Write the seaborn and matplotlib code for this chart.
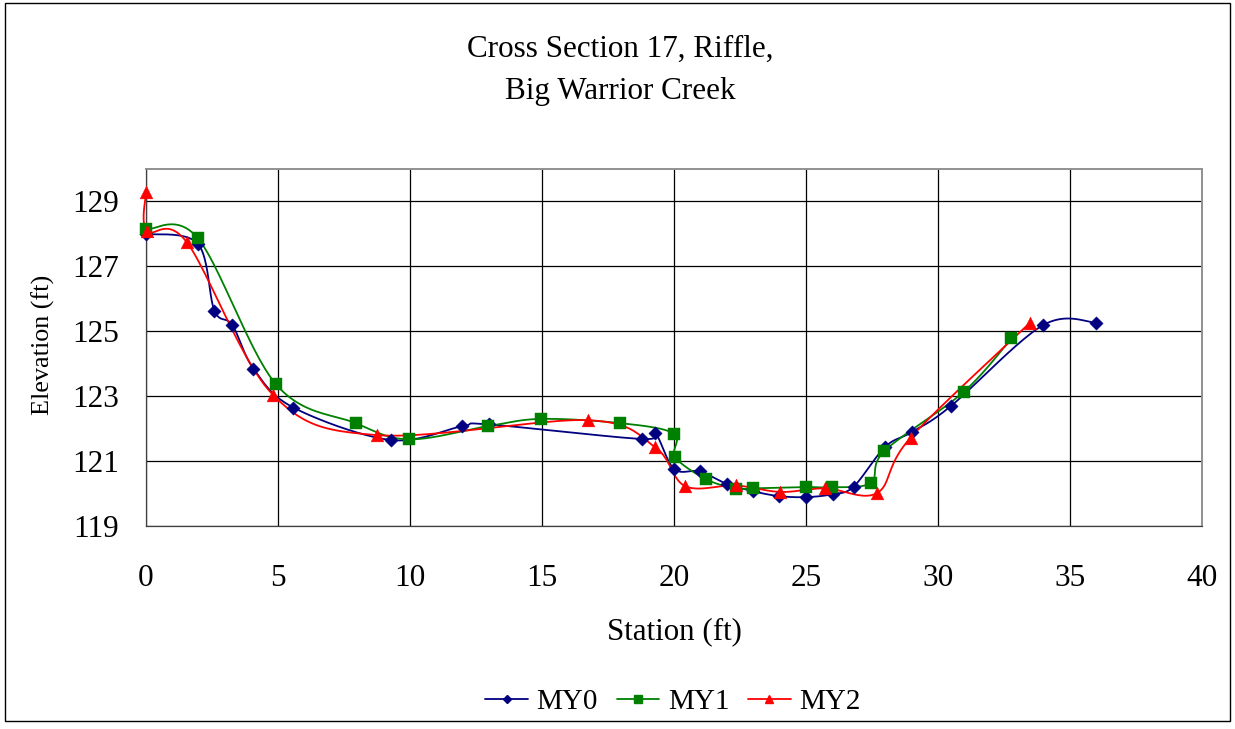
import numpy as np
import matplotlib
matplotlib.use("Agg")
import matplotlib.pyplot as plt
from matplotlib.lines import Line2D
from matplotlib.patches import Rectangle
import seaborn as sns

# ---------------- data ----------------
my0_x = [0.0, 1.96, 2.59, 3.27, 4.07, 5.58, 9.27, 11.97, 12.98, 18.79, 19.28, 20.0,
         20.98, 22.0, 23.0, 23.99, 25.01, 26.01, 26.8, 28.0, 29.0, 30.48, 33.96, 35.98]
my0_y = [128.0, 127.7, 125.64, 125.19, 123.85, 122.65, 121.65, 122.07, 122.13, 121.68,
         121.88, 120.76, 120.68, 120.3, 120.07, 119.92, 119.89, 119.98, 120.21, 121.44,
         121.89, 122.69, 125.18, 125.27]

my1_x = [0.0, 1.96, 4.92, 7.94, 9.97, 12.97, 14.96, 17.96, 19.99, 20.05, 21.22, 22.36,
         22.98, 24.99, 25.98, 27.45, 27.97, 30.97, 32.78]
my1_y = [128.14, 127.87, 123.37, 122.17, 121.67, 122.08, 122.3, 122.17, 121.85, 121.12,
         120.44, 120.15, 120.16, 120.2, 120.19, 120.33, 121.31, 123.13, 124.78]

my2_x = [0.0, 0.03, 1.54, 4.8, 8.75, 16.73, 19.28, 20.42, 22.34, 24.03, 25.73, 27.7,
         28.96, 33.48]
my2_y = [129.3, 128.09, 127.75, 123.05, 121.8, 122.26, 121.43, 120.23, 120.25, 120.05,
         120.16, 120.02, 121.72, 125.26]

series_names = ["MY0", "MY1", "MY2"]
series_colors = ["#000080", "#008000", "#FF0000"]
series_markers = ["D", "s", "^"]
x_ticks = [0, 5, 10, 15, 20, 25, 30, 35, 40]
y_ticks = [119, 121, 123, 125, 127, 129]
title_lines = ["Cross Section 17, Riffle,", "Big Warrior Creek"]


def smooth_curve(xs, ys, n=24):
    """Excel-like smoothed line (Catmull-Rom Bezier) through the data points."""
    p = np.column_stack([xs, ys]).astype(float)
    pts = np.vstack([p[0], p, p[-1]])
    out = []
    t = np.linspace(0, 1, n)[:, None]
    for i in range(1, len(pts) - 2):
        p0, p1, p2, p3 = pts[i - 1], pts[i], pts[i + 1], pts[i + 2]
        c1 = p1 + (p2 - p0) / 6.0
        c2 = p2 - (p3 - p1) / 6.0
        seg = ((1 - t) ** 3) * p1 + 3 * ((1 - t) ** 2) * t * c1 + 3 * (1 - t) * t ** 2 * c2 + t ** 3 * p2
        out.append(seg if i == 1 else seg[1:])
    c = np.vstack(out)
    return c[:, 0], c[:, 1]


sns.set_theme(style="white")
plt.rcParams["font.family"] = ["Liberation Serif", "DejaVu Serif"]
plt.rcParams["text.color"] = "black"

W, H = 1235, 729
fig = plt.figure(figsize=(W / 100, H / 100), dpi=100)
fig.patch.set_facecolor("white")

# outer chart border
fig.patches.append(Rectangle((5 / W, 1 - 721 / H), (1230 - 5) / W, (721 - 3) / H,
                             transform=fig.transFigure, fill=False,
                             edgecolor="black", linewidth=1.0))

L, R, T, B = 146, 1202, 169, 526
ax = fig.add_axes([L / W, 1 - B / H, (R - L) / W, (B - T) / H])
ax.set_facecolor("white")

data_x = [my0_x, my1_x, my2_x]
data_y = [my0_y, my1_y, my2_y]
sizes = [6.8, 8.2, 9.2]
for xs, ys, col, mk, sz in zip(data_x, data_y, series_colors, series_markers, sizes):
    sx, sy = smooth_curve(xs, ys)
    ax.plot(sx, sy, color=col, linewidth=1.3, zorder=3, clip_on=False)
    sns.scatterplot(x=xs, y=ys, marker=mk, s=sz ** 2, color=col,
                    edgecolor=col, linewidth=0.3, ax=ax, zorder=4, legend=False,
                    clip_on=False)

ax.set_xlim(0, 40)
ax.set_ylim(119, 130)
ax.set_xticks(x_ticks)
ax.set_yticks(y_ticks)
ax.grid(True, color="black", linewidth=0.9)
ax.set_axisbelow(True)
ax.tick_params(axis="both", direction="out", length=7.5, width=0.8, color="#404040",
               labelsize=22.5, labelcolor="black")
ax.tick_params(axis="y", pad=12)
ax.tick_params(axis="x", pad=20)
for side in ["left", "bottom"]:
    ax.spines[side].set_color("#404040")
    ax.spines[side].set_linewidth(0.9)
for side in ["top", "right"]:
    ax.spines[side].set_color("#909090")
    ax.spines[side].set_linewidth(1.4)
ax.set_xlabel("")
ax.set_ylabel("")

# titles and labels
fig.text(620 / W, 1 - 57 / H, title_lines[0], ha="center", va="baseline", fontsize=22.4,
         color="black")
fig.text(620 / W, 1 - 99 / H, title_lines[1], ha="center", va="baseline", fontsize=22.4,
         color="black")
fig.text(674 / W, 1 - 632 / H, "Station (ft)", ha="center", va="center", fontsize=22.3,
         color="black")
fig.text(43 / W, 1 - 345 / H, "Elevation (ft)", ha="center", va="center",
         rotation=90, fontsize=18.8, color="black")

handles = [Line2D([0], [0], color=c, marker=m, markersize=ms, linewidth=1.3)
           for c, m, ms in zip(series_colors, series_markers, [4.2, 5.4, 6.2])]
fig.legend(handles, series_names, loc="center", bbox_to_anchor=(673 / W, 1 - 701.7 / H),
           ncol=3, frameon=False, fontsize=21, handlelength=1.45, handletextpad=0.3,
           columnspacing=0.65, borderaxespad=0, labelcolor="black")

fig.savefig("out.png", dpi=100, facecolor="white")
